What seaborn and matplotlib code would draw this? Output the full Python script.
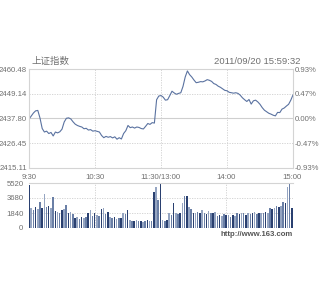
import numpy as np
import pandas as pd
import matplotlib
matplotlib.use("Agg")
import matplotlib.pyplot as plt
import seaborn as sns

# ---------------- data ----------------
index_values = [
    2437.5, 2438.9, 2440.3, 2441.3, 2441.5, 2438.0, 2433.2, 2431.6, 2432.0, 2430.9,
    2431.4, 2429.8, 2431.6, 2431.2, 2431.7, 2432.9, 2436.2, 2437.9, 2438.1, 2437.6,
    2436.3, 2435.2, 2434.6, 2434.2, 2433.9, 2433.1, 2433.3, 2432.5, 2432.7, 2432.0,
    2432.2, 2431.9, 2431.6, 2430.0, 2429.0, 2429.6, 2429.2, 2429.5, 2428.9, 2429.4,
    2428.3, 2429.0, 2428.4, 2430.9, 2432.2, 2434.6, 2433.6, 2433.9, 2433.4, 2433.9,
    2433.7, 2433.2, 2433.0, 2434.2, 2435.5, 2435.1, 2435.9, 2435.7, 2446.4, 2448.1,
    2448.3, 2447.6, 2446.2, 2446.4, 2448.3, 2450.3, 2449.5, 2448.9, 2449.3, 2449.6,
    2452.5, 2456.8, 2459.6, 2457.9, 2456.8, 2455.4, 2454.2, 2454.4, 2454.7, 2454.6,
    2455.0, 2455.6, 2455.3, 2454.8, 2453.8, 2453.4, 2452.6, 2452.1, 2451.4, 2450.7,
    2450.5, 2449.8, 2449.6, 2449.4, 2449.6, 2449.3, 2448.5, 2447.3, 2446.4, 2445.6,
    2446.5, 2444.4, 2445.9, 2446.2, 2445.4, 2444.3, 2442.8, 2441.6, 2440.9, 2440.2,
    2439.8, 2439.3, 2439.0, 2440.6, 2440.5, 2442.1, 2442.6, 2443.5, 2444.3, 2446.2,
    2448.6,
]
volume_values = [
    5300, 2400, 2250, 2550, 2350, 3190, 2500, 4170, 2600, 2700,
    2450, 3800, 2100, 1960, 1850, 2150, 2350, 2820, 1840, 1950,
    1700, 1230, 1350, 1150, 1300, 1200, 1400, 1840, 2200, 1500,
    1840, 1600, 1450, 2330, 2450, 1700, 2000, 1300, 1230, 1350,
    1150, 1250, 1200, 1840, 1700, 2200, 1000, 900, 850, 950,
    800, 900, 750, 850, 1000, 800, 900, 4420, 5030, 3440,
    5520, 980, 800, 1000, 1840, 1600, 3070, 1840, 1700, 1900,
    3070, 3930, 3930, 2580, 2300, 1900, 1800, 2000, 1850, 2200,
    1900, 1750, 2100, 1900, 1800, 1950, 1500, 1600, 1450, 1700,
    1550, 1650, 1400, 1600, 1500, 1840, 1700, 1900, 1840, 1650,
    1900, 1750, 1840, 1950, 1700, 1840, 1900, 1800, 2000, 1840,
    2450, 2300, 2450, 2700, 2600, 2700, 3190, 3100, 5030, 5520,
    2450,
]
minutes = list(range(0, 2 * len(index_values), 2))

price_ticks = [2415.11, 2426.45, 2437.80, 2449.14, 2460.48]
pct_labels = ["-0.93%", "-0.47%", "0.00%", "0.47%", "0.93%"]
volume_ticks = [0, 1840, 3680, 5520]
time_ticks = [0, 60, 120, 180, 240]
time_labels = ["9:30", "10:30", "11:30/13:00", "14:00", "15:00"]
title_text = "上证指数"
stamp_text = "2011/09/20 15:59:32"
source_text = "http://www.163.com"

# ---------------- style ----------------
sns.set_style("white")
plt.rcParams["font.family"] = ["Liberation Sans", "DejaVu Sans", "Noto Sans CJK SC"]

line_color = "#5a72a0"
grid_color = "#cfcfcf"
frame_color = "#d4d4d4"
text_color = "#707070"
fs = 5.6

fig = plt.figure(figsize=(3.2, 3.0), dpi=100)
fig.patch.set_facecolor("white")

ax1 = fig.add_axes([29 / 320, 1 - 168 / 300, 264 / 320, 99 / 300])
ax2 = fig.add_axes([29 / 320, 1 - 228 / 300, 264 / 320, 45 / 300])

df = pd.DataFrame({"minute": minutes, "index": index_values, "volume": volume_values})

# main price line
sns.lineplot(data=df, x="minute", y="index", ax=ax1, color=line_color, linewidth=0.8)
ax1.set_xlim(0, 240)
ax1.set_ylim(price_ticks[0], price_ticks[-1])
ax1.set_xticks(time_ticks)
ax1.set_xticklabels([])
ax1.set_yticks(price_ticks)
ax1.set_yticklabels([f"{v:.2f}" for v in price_ticks])
ax1.tick_params(axis="both", length=0, labelsize=fs, colors=text_color, pad=1.5)
ax1.set_xlabel("")
ax1.set_ylabel("")
for v in [price_ticks[1], price_ticks[3]]:
    ax1.axhline(v, color=grid_color, linewidth=0.6, linestyle=(0, (1.5, 1.5)), zorder=0)
ax1.axhline(price_ticks[2], color=grid_color, linewidth=0.8, zorder=0)
for t in time_ticks[1:-1]:
    ax1.axvline(t, color=grid_color, linewidth=0.6, linestyle=(0, (1.5, 1.5)), zorder=0)
for s in ax1.spines.values():
    s.set_color(frame_color)
    s.set_linewidth(0.8)

ax1r = ax1.twinx()
ax1r.set_ylim(price_ticks[0], price_ticks[-1])
ax1r.set_yticks(price_ticks)
ax1r.set_yticklabels(pct_labels)
ax1r.tick_params(axis="y", length=0, labelsize=fs, colors=text_color, pad=1.5)
for s in ax1r.spines.values():
    s.set_visible(False)

# volume bars
n = len(volume_values)
bar_colors = ["#2a4070" if i % 3 == 0 else ("#95a5c2" if i % 3 == 1 else "#6a7fa6") for i in range(n)]
df["bar_id"] = [str(i) for i in range(n)]
sns.barplot(data=df, x="minute", y="volume", hue="bar_id", palette=bar_colors,
            native_scale=True, width=0.7, legend=False, ax=ax2, linewidth=0, saturation=1)
ax2.set_xlim(0, 241)
ax2.set_ylim(0, volume_ticks[-1])
ax2.set_yticks(volume_ticks)
ax2.set_yticklabels([str(v) for v in volume_ticks])
ax2.set_xticks(time_ticks)
ax2.set_xticklabels(time_labels)
ax2.xaxis.tick_top()
ax2.tick_params(axis="x", length=0, labelsize=fs, colors=text_color, pad=1.5)
ax2.tick_params(axis="y", length=0, labelsize=fs, colors=text_color, pad=4)
ax2.set_xlabel("")
ax2.set_ylabel("")
for v in volume_ticks[1:3]:
    ax2.axhline(v, color=grid_color, linewidth=0.6, linestyle=(0, (1.5, 1.5)), zorder=0)
for t in time_ticks[1:-1]:
    ax2.axvline(t, color=grid_color, linewidth=0.6, linestyle=(0, (1.5, 1.5)), zorder=0)
ax2.set_axisbelow(True)
for name, s in ax2.spines.items():
    s.set_color(frame_color)
    s.set_linewidth(0.8)
ax2.spines["bottom"].set_visible(False)
ax2.spines["right"].set_visible(False)
ax2.spines["left"].set_visible(False)

# texts
fig.text(31 / 320, 1 - 61 / 300, title_text, fontsize=6.8, color=text_color,
         va="center", ha="left", family=["Noto Sans CJK SC", "DejaVu Sans"])
fig.text(301 / 320, 1 - 61 / 300, stamp_text, fontsize=6.8, color=text_color,
         va="center", ha="right")
fig.text(293 / 320, 1 - 235 / 300, source_text, fontsize=5.6, color="#555555",
         va="center", ha="right", fontweight="bold")

fig.savefig("out.png", dpi=100, facecolor="white")
